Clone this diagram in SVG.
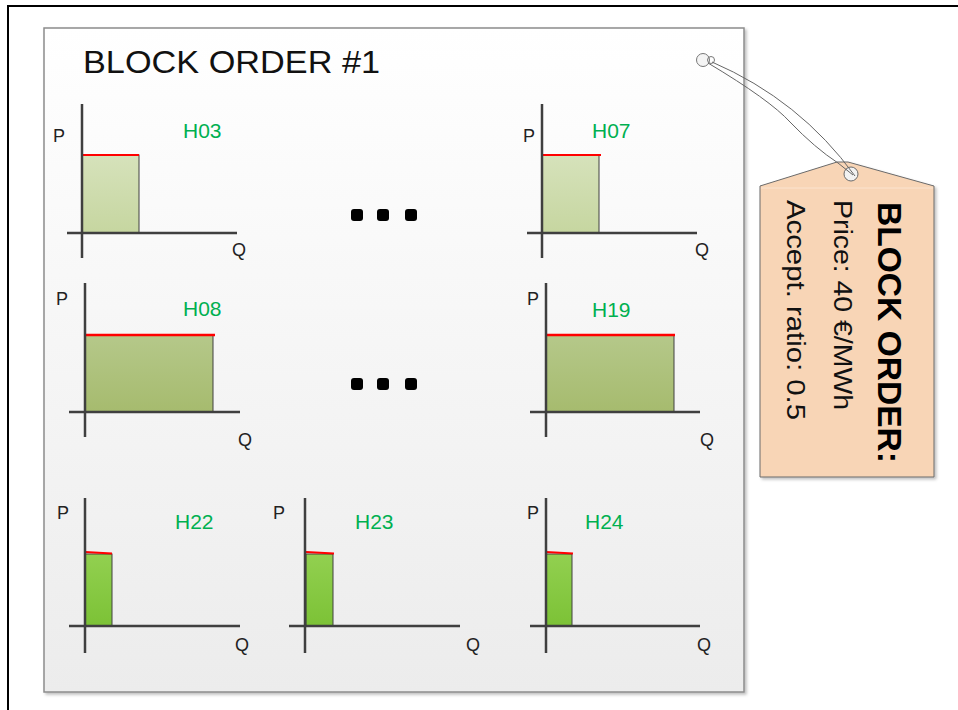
<svg xmlns="http://www.w3.org/2000/svg" width="958" height="710" viewBox="0 0 958 710">
<defs>
<linearGradient id="panelG" x1="0" y1="0" x2="0" y2="1"><stop offset="0" stop-color="#ffffff"/><stop offset="1" stop-color="#ececec"/></linearGradient>
<linearGradient id="lightG" x1="0" y1="0" x2="0" y2="1"><stop offset="0" stop-color="#d6e2bb"/><stop offset="1" stop-color="#c6d6a0"/></linearGradient>
<linearGradient id="midG" x1="0" y1="0" x2="0" y2="1"><stop offset="0" stop-color="#b5c88a"/><stop offset="1" stop-color="#a6bb6e"/></linearGradient>
<linearGradient id="brightG" x1="0" y1="0" x2="0" y2="1"><stop offset="0" stop-color="#92d050"/><stop offset="1" stop-color="#7cc236"/></linearGradient>
<filter id="sh" x="-5%" y="-5%" width="115%" height="115%"><feDropShadow dx="2" dy="2" stdDeviation="1.5" flood-color="#000" flood-opacity="0.25"/></filter>
</defs>
<style>
.axis{stroke:#3f3f3f;stroke-width:2.5;fill:none}
.bar{stroke:#404040;stroke-width:1}
.red{stroke:#ff0000;stroke-width:2;fill:none}
.red2{stroke:#ff0000;stroke-width:2.5;fill:none}
.pq{font-family:"Liberation Sans",Arial,sans-serif;font-size:18px;fill:#222}
.hl{font-family:"Liberation Sans",Arial,sans-serif;font-size:21px;fill:#00b050}
.dot{fill:#000}
.str{stroke:#666;stroke-width:1;fill:none}
</style>
<rect width="958" height="710" fill="#ffffff"/>
<path d="M8,710 V6 H958" stroke="#000" stroke-width="2" fill="none"/>

<g id="panel">
<rect x="44" y="28" width="700" height="664" fill="url(#panelG)" stroke="#8c8c8c" stroke-width="1.5" filter="url(#sh)"/>
<text x="83" y="73" font-family="Liberation Sans,Arial,sans-serif" font-size="32" fill="#111" textLength="297" lengthAdjust="spacingAndGlyphs">BLOCK ORDER #1</text>
</g>

<g id="chart-H03">
<rect x="82" y="155" width="57" height="78" fill="url(#lightG)" class="bar"/>
<line x1="82" y1="155" x2="139" y2="155" class="red"/>
<line x1="67" y1="233" x2="237" y2="233" class="axis"/>
<line x1="82" y1="104" x2="82" y2="258" class="axis"/>
<text x="53" y="142" class="pq">P</text>
<text x="232" y="256" class="pq">Q</text>
<text x="183" y="138" class="hl">H03</text>
</g>

<g id="chart-H07">
<rect x="542" y="155" width="57" height="78" fill="url(#lightG)" class="bar"/>
<line x1="542" y1="155" x2="601" y2="155" class="red"/>
<line x1="527" y1="233" x2="697" y2="233" class="axis"/>
<line x1="542" y1="104" x2="542" y2="258" class="axis"/>
<text x="523" y="142" class="pq">P</text>
<text x="695" y="256" class="pq">Q</text>
<text x="592" y="138" class="hl">H07</text>
</g>

<g id="chart-H08">
<rect x="85" y="335" width="128" height="77" fill="url(#midG)" class="bar"/>
<line x1="85" y1="335" x2="215" y2="335" class="red2"/>
<line x1="69" y1="412" x2="240" y2="412" class="axis"/>
<line x1="85" y1="283" x2="85" y2="437" class="axis"/>
<text x="56" y="305" class="pq">P</text>
<text x="238" y="446" class="pq">Q</text>
<text x="183" y="316" class="hl">H08</text>
</g>

<g id="chart-H19">
<rect x="546" y="335" width="128" height="77" fill="url(#midG)" class="bar"/>
<line x1="546" y1="335" x2="675" y2="335" class="red2"/>
<line x1="530" y1="412" x2="700" y2="412" class="axis"/>
<line x1="546" y1="283" x2="546" y2="437" class="axis"/>
<text x="527" y="305" class="pq">P</text>
<text x="700" y="446" class="pq">Q</text>
<text x="592" y="317" class="hl">H19</text>
</g>

<g id="chart-H22">
<rect x="85" y="554" width="27" height="72" fill="url(#brightG)" class="bar"/>
<line x1="85" y1="552" x2="112" y2="553.5" class="red"/>
<line x1="69" y1="626" x2="240" y2="626" class="axis"/>
<line x1="85" y1="498" x2="85" y2="653" class="axis"/>
<text x="57" y="519" class="pq">P</text>
<text x="235" y="651" class="pq">Q</text>
<text x="175" y="529" class="hl">H22</text>
</g>

<g id="chart-H23">
<rect x="306" y="554" width="27" height="72" fill="url(#brightG)" class="bar"/>
<line x1="306" y1="552" x2="334" y2="553.5" class="red"/>
<line x1="289" y1="626" x2="460" y2="626" class="axis"/>
<line x1="305" y1="498" x2="305" y2="653" class="axis"/>
<text x="273" y="519" class="pq">P</text>
<text x="466" y="651" class="pq">Q</text>
<text x="355" y="529" class="hl">H23</text>
</g>

<g id="chart-H24">
<rect x="546" y="554" width="26" height="72" fill="url(#brightG)" class="bar"/>
<line x1="546" y1="552" x2="573" y2="553.5" class="red"/>
<line x1="530" y1="626" x2="700" y2="626" class="axis"/>
<line x1="546" y1="498" x2="546" y2="653" class="axis"/>
<text x="527" y="519" class="pq">P</text>
<text x="697" y="651" class="pq">Q</text>
<text x="585" y="529" class="hl">H24</text>
</g>

<g id="ellipsis-1">
<rect x="351" y="209" width="12" height="12" rx="3" class="dot"/>
<rect x="377" y="209" width="12" height="12" rx="3" class="dot"/>
<rect x="405" y="209" width="12" height="12" rx="3" class="dot"/>
</g>
<g id="ellipsis-2">
<rect x="351" y="378" width="12" height="12" rx="3" class="dot"/>
<rect x="377" y="378" width="12" height="12" rx="3" class="dot"/>
<rect x="405" y="378" width="12" height="12" rx="3" class="dot"/>
</g>

<g id="tag">
<polygon points="760,186 837,162 848,162 934,186 934,477 760,477" fill="#f8d5b6" stroke="#6a6a6a" stroke-width="1" filter="url(#sh)"/>
<line x1="761" y1="188" x2="933" y2="188" stroke="#fbe3cf" stroke-width="1"/>
<circle cx="851" cy="174" r="7" fill="#f2f2f2" stroke="#6a6a6a" stroke-width="1"/>
<text transform="translate(878,202) rotate(90)" font-family="Liberation Sans,Arial,sans-serif" font-weight="bold" font-size="34" fill="#000" textLength="261" lengthAdjust="spacingAndGlyphs">BLOCK ORDER:</text>
<text transform="translate(834,200) rotate(90)" font-family="Liberation Sans,Arial,sans-serif" font-size="26" fill="#111" textLength="210" lengthAdjust="spacingAndGlyphs">Price: 40 €/MWh</text>
<text transform="translate(787,200) rotate(90)" font-family="Liberation Sans,Arial,sans-serif" font-size="26" fill="#111" textLength="220" lengthAdjust="spacingAndGlyphs">Accept. ratio: 0.5</text>
</g>

<g id="connectors">
<circle cx="703" cy="60" r="6.5" fill="#f4f4f4" stroke="#777" stroke-width="1"/>
<circle cx="711" cy="60" r="3.5" fill="none" stroke="#777" stroke-width="1"/>
<path d="M712,62 Q800,100 855,176" class="str"/>
<path d="M708,63 Q770,100 790,122 Q815,148 838,163 L853,175" class="str"/>
</g>
</svg>
